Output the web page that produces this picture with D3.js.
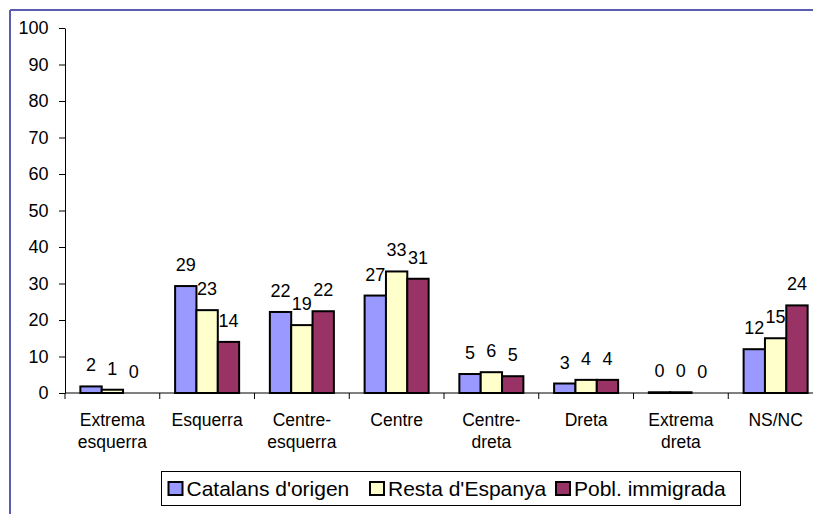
<!DOCTYPE html>
<html>
<head>
<meta charset="utf-8">
<script src="https://cdn.jsdelivr.net/npm/d3@7"></script>
<style>
  html, body { margin: 0; padding: 0; background: #fff; }
  svg { display: block; font-family: "Liberation Sans", Arial, sans-serif; }
</style>
</head>
<body>
<svg id="chart" width="813" height="514"></svg>
<script>
// Ideological self-placement by origin (%)
const categories = ["Extrema esquerra", "Esquerra", "Centre-esquerra", "Centre", "Centre-dreta", "Dreta", "Extrema dreta", "NS/NC"];
const categoryLines = [["Extrema", "esquerra"], ["Esquerra"], ["Centre-", "esquerra"], ["Centre"], ["Centre-", "dreta"], ["Dreta"], ["Extrema", "dreta"], ["NS/NC"]];
const seriesNames = ["Catalans d'origen", "Resta d'Espanya", "Pobl. immigrada"];
const catalans = [1.8, 29.3, 22.2, 26.7, 5.2, 2.6, 0.2, 12.0];
const resta    = [0.9, 22.7, 18.6, 33.3, 5.7, 3.6, 0.2, 15.0];
const pobl     = [0.0, 14.0, 22.4, 31.3, 4.6, 3.6, 0.0, 24.0];
const yTicks = [0, 10, 20, 30, 40, 50, 60, 70, 80, 90, 100];
const colors = ["#9999FF", "#FFFFCC", "#993366"];

const seriesValues = [catalans, resta, pobl];
const rows = categories.map((c, i) => ({
  category: c,
  lines: categoryLines[i],
  values: seriesNames.map((s, k) => ({ series: s, value: seriesValues[k][i], color: colors[k] }))
}));

const svg = d3.select("#chart");

// outer frame (top and left edges visible)
const frame = svg.append("g").attr("stroke", "#5b5db3").attr("stroke-width", 2).attr("fill", "none");
frame.append("line").attr("x1", 10).attr("x2", 813).attr("y1", 10).attr("y2", 10);
frame.append("line").attr("x1", 10).attr("x2", 10).attr("y1", 10).attr("y2", 514);

const plotLeft = 65, step = 94.75;
const x0 = d3.scaleBand().domain(categories).range([plotLeft, plotLeft + step * categories.length]).paddingInner(0).paddingOuter(0);
const x1 = d3.scaleBand().domain(seriesNames).range([0, x0.bandwidth()]).paddingInner(0).paddingOuter(0.72);
const y = d3.scaleLinear().domain([0, 100]).range([393, 28]);

// y axis
const yAxis = svg.append("g")
  .attr("transform", `translate(${plotLeft},0)`)
  .call(d3.axisLeft(y).tickValues(yTicks).tickSize(6).tickSizeOuter(0).tickPadding(10.5));
yAxis.selectAll("path, line").attr("stroke", "#000");
yAxis.selectAll("text").attr("font-size", "18px").attr("fill", "#000")
  .attr("font-family", "'Liberation Sans', Arial, sans-serif");

// bars
const groups = svg.append("g").selectAll("g").data(rows).join("g")
  .attr("transform", d => `translate(${x0(d.category)},0)`);

groups.selectAll("rect").data(d => d.values).join("rect")
  .attr("x", d => x1(d.series))
  .attr("width", x1.bandwidth())
  .attr("y", d => y(d.value))
  .attr("height", d => y(0) - y(d.value))
  .attr("fill", d => d.color)
  .attr("stroke", "#000")
  .attr("stroke-width", 2);

// value labels
const fmt = d3.format(".0f");
groups.selectAll("text.val").data(d => d.values).join("text")
  .attr("class", "val")
  .attr("x", d => x1(d.series) + x1.bandwidth() / 2)
  .attr("y", d => y(d.value) - 15)
  .attr("text-anchor", "middle")
  .attr("font-size", "18px")
  .attr("fill", "#000")
  .text(d => fmt(d.value));

// x axis baseline and category boundary ticks
const xAxis = svg.append("g").attr("transform", `translate(0,${y(0)})`);
xAxis.append("line")
  .attr("x1", plotLeft).attr("x2", x0.range()[1])
  .attr("stroke", "#000");
const bounds = categories.map(c => x0(c)).concat([x0.range()[1]]);
xAxis.selectAll("line.tick").data(bounds).join("line")
  .attr("class", "tick")
  .attr("x1", d => d).attr("x2", d => d)
  .attr("y1", 0).attr("y2", 6)
  .attr("stroke", "#000");

// category labels
const catLabels = svg.append("g").selectAll("text").data(rows).join("text")
  .attr("x", d => x0(d.category) + x0.bandwidth() / 2)
  .attr("y", 426)
  .attr("text-anchor", "middle")
  .attr("font-size", "17.5px")
  .attr("fill", "#000");
catLabels.selectAll("tspan").data(d => d.lines).join("tspan")
  .attr("x", function () { return d3.select(this.parentNode).attr("x"); })
  .attr("dy", (d, i) => i === 0 ? 0 : 21.5)
  .text(d => d);

// legend
const legend = svg.append("g");
legend.append("rect")
  .attr("x", 161.5).attr("y", 471.5).attr("width", 579).attr("height", 34)
  .attr("fill", "#fff").attr("stroke", "#000").attr("stroke-width", 1);
const legendX = [168.5, 370, 556];
const items = legend.selectAll("g").data(seriesNames).join("g")
  .attr("transform", (d, i) => `translate(${legendX[i]},0)`);
items.append("rect")
  .attr("x", 0).attr("y", 482).attr("width", 14).attr("height", 13)
  .attr("fill", (d, i) => colors[i]).attr("stroke", "#000").attr("stroke-width", 2);
items.append("text")
  .attr("x", 18).attr("y", 496)
  .attr("font-size", "21px").attr("fill", "#000")
  .text(d => d);
</script>
</body>
</html>
